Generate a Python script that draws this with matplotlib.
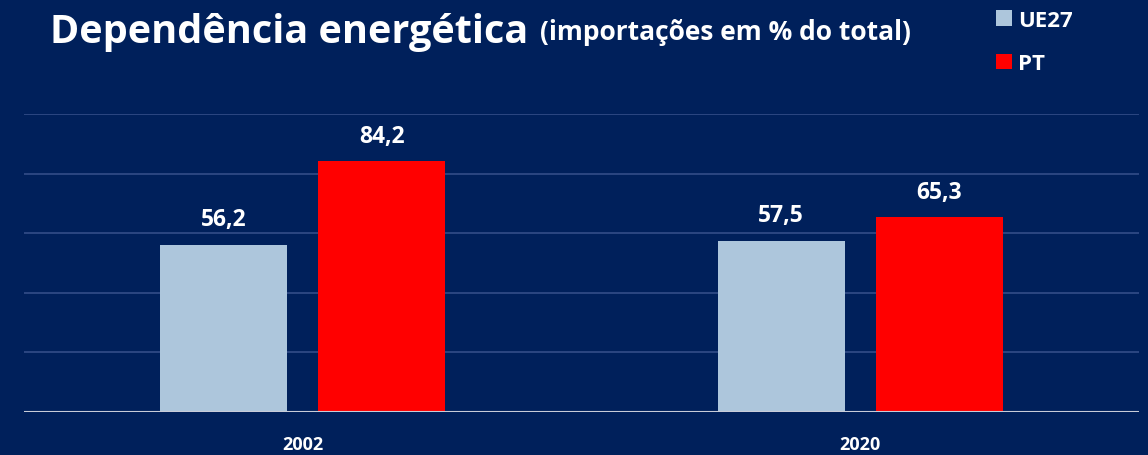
import numpy as np
import matplotlib.pyplot as plt

plt.rcParams["font.family"] = ["Open Sans", "DejaVu Sans"]

anos = ["2002", "2020"]
ue27 = [56.2, 57.5]
pt = [84.2, 65.3]

bg = "#00205b"
fig = plt.figure(figsize=(11.48, 4.56), dpi=100, facecolor=bg)
ax = fig.add_axes([24 / 1148, 43 / 456, 1115 / 1148, 298 / 456], facecolor=bg)

x = np.arange(len(anos))
w = 0.228
off = 0.142
b1 = ax.bar(x - off, ue27, w, color="#adc6dc", label="UE27", zorder=3)
b2 = ax.bar(x + off, pt, w, color="#ff0000", label="PT", zorder=3)

for bars, vals in ((b1, ue27), (b2, pt)):
    for r, v in zip(bars, vals):
        ax.text(r.get_x() + r.get_width() / 2, v + 4.5, f"{v:.1f}".replace(".", ","),
                ha="center", va="bottom", color="white", fontsize=16.5, weight="bold")

ax.set_xlim(-0.5, 1.5)
ax.set_ylim(0, 100)
ax.set_yticks(np.arange(0, 101, 20))
ax.yaxis.grid(True, color="#2f4a85", linewidth=1.3, zorder=0)
ax.tick_params(left=False, bottom=False, labelleft=False)
ax.set_xticks(x)
ax.set_xticklabels(anos, color="white", fontsize=13, weight="bold")
ax.tick_params(axis="x", pad=13)
for s in ax.spines.values():
    s.set_visible(False)
ax.axhline(0, color="#c8ccd8", linewidth=1.5, zorder=4)

fig.text(50 / 1148, 1 - 32 / 456, "Dependência energética", color="white",
         fontsize=28.5, weight="bold", va="center", ha="left")
fig.text(540 / 1148, 1 - 33 / 456, "(importações em % do total)", color="white",
         fontsize=19, weight="bold", va="center", ha="left")

leg = fig.legend(handles=[b1, b2], loc="upper left", bbox_to_anchor=(976 / 1148, 1.02),
                 frameon=False, labelcolor="white", prop={"weight": "bold", "size": 16},
                 handlelength=0.7, handleheight=0.7, handletextpad=0.3, labelspacing=1.0)

fig.savefig("out.png", dpi=100, facecolor=bg)
